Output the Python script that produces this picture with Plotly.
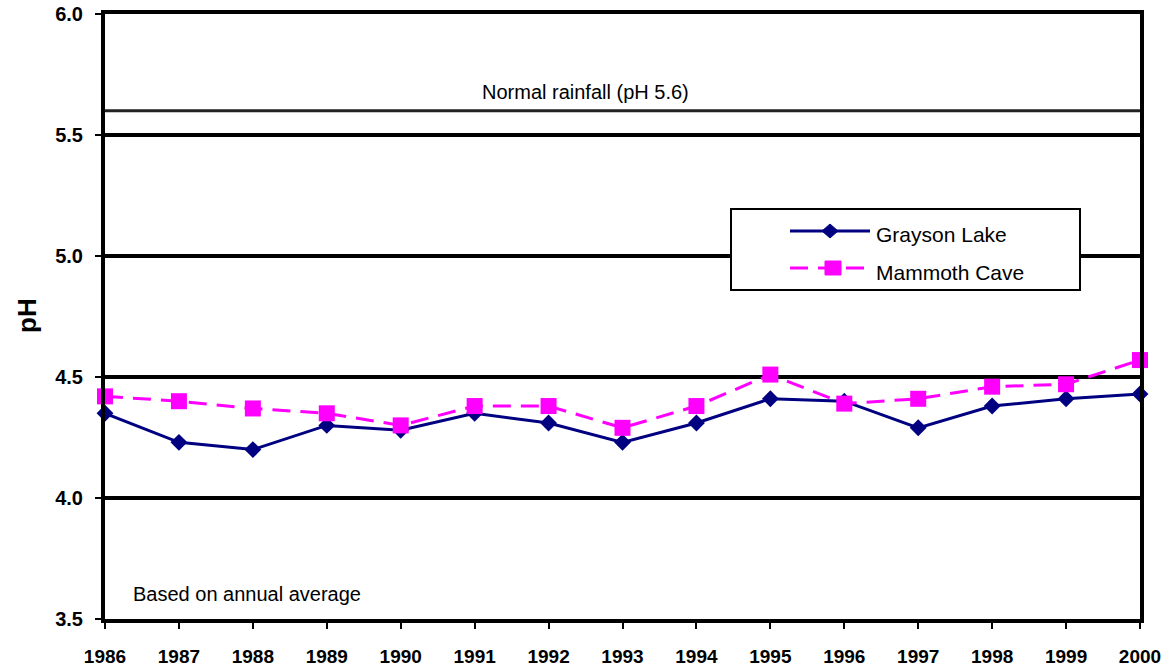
import plotly.graph_objects as go

# Annual average precipitation pH
years = [1986, 1987, 1988, 1989, 1990, 1991, 1992, 1993, 1994, 1995, 1996, 1997, 1998, 1999, 2000]
grayson_lake = [4.35, 4.23, 4.20, 4.30, 4.28, 4.35, 4.31, 4.23, 4.31, 4.41, 4.40, 4.29, 4.38, 4.41, 4.43]
mammoth_cave = [4.42, 4.40, 4.37, 4.35, 4.30, 4.38, 4.38, 4.29, 4.38, 4.51, 4.39, 4.41, 4.46, 4.47, 4.57]
series_names = ["Grayson Lake", "Mammoth Cave"]
normal_rainfall_ph = 5.6
y_ticks = [3.5, 4.0, 4.5, 5.0, 5.5, 6.0]

NAVY = "#000080"
MAGENTA = "#FF00FF"
FONT = "Liberation Sans, Arial, sans-serif"

fig = go.Figure()

fig.add_trace(go.Scatter(
    x=years, y=grayson_lake, name=series_names[0], mode="lines+markers",
    line=dict(color=NAVY, width=3),
    marker=dict(symbol="diamond", size=13, color=NAVY),
    cliponaxis=False, showlegend=False,
))
fig.add_trace(go.Scatter(
    x=years, y=mammoth_cave, name=series_names[1], mode="lines+markers",
    line=dict(color=MAGENTA, width=3, dash="18px,10px"),
    marker=dict(symbol="square", size=16, color=MAGENTA),
    cliponaxis=False, showlegend=False,
))

# Reference line for unpolluted rain
fig.add_shape(type="line", xref="paper", x0=0, x1=1, yref="y",
              y0=normal_rainfall_ph, y1=normal_rainfall_ph,
              line=dict(color="#222222", width=3), layer="above")

# Legend box drawn as shapes so the sample lines can be long
def px_x(p):
    return (p - 105) / 1035.0

def px_y(p):
    return (619 - p) / 605.0

fig.add_shape(type="rect", xref="paper", yref="paper",
              x0=px_x(731), x1=px_x(1080), y0=px_y(290), y1=px_y(209),
              line=dict(color="black", width=2), fillcolor="white", layer="above")
fig.add_shape(type="line", xref="paper", yref="paper",
              x0=px_x(790), x1=px_x(870), y0=px_y(231), y1=px_y(231),
              line=dict(color=NAVY, width=3), layer="above")
fig.add_shape(type="path", xref="paper", yref="paper",
              xsizemode="pixel", ysizemode="pixel",
              xanchor=px_x(830), yanchor=px_y(231),
              path="M -8 0 L 0 7 L 8 0 L 0 -7 Z",
              fillcolor=NAVY, line=dict(color=NAVY, width=1), layer="above")
fig.add_shape(type="line", xref="paper", yref="paper",
              x0=px_x(790), x1=px_x(866), y0=px_y(268), y1=px_y(268),
              line=dict(color=MAGENTA, width=3, dash="18px,10px"), layer="above")
fig.add_shape(type="path", xref="paper", yref="paper",
              xsizemode="pixel", ysizemode="pixel",
              xanchor=px_x(833), yanchor=px_y(268),
              path="M -8 -7 L 8 -7 L 8 7 L -8 7 Z",
              fillcolor=MAGENTA, line=dict(color=MAGENTA, width=1), layer="above")

fig.add_annotation(text=series_names[0], xref="paper", yref="paper",
                   x=px_x(874), y=px_y(235), xanchor="left", yanchor="middle",
                   showarrow=False, font=dict(family=FONT, size=21, color="black"))
fig.add_annotation(text=series_names[1], xref="paper", yref="paper",
                   x=px_x(874), y=px_y(273), xanchor="left", yanchor="middle",
                   showarrow=False, font=dict(family=FONT, size=21, color="black"))

fig.add_annotation(text=f"Normal rainfall (pH {normal_rainfall_ph})", xref="paper", yref="paper",
                   x=px_x(585), y=px_y(92), xanchor="center", yanchor="middle",
                   showarrow=False, font=dict(family=FONT, size=20, color="black"))
fig.add_annotation(text="Based on annual average", xref="paper", yref="paper",
                   x=px_x(131), y=px_y(594), xanchor="left", yanchor="middle",
                   showarrow=False, font=dict(family=FONT, size=20, color="black"))
fig.add_annotation(text="<b>pH</b>", xref="paper", yref="paper",
                   x=px_x(27), y=px_y(316), xanchor="center", yanchor="middle",
                   textangle=-90, showarrow=False,
                   font=dict(family=FONT, size=26, color="black"))

fig.update_xaxes(
    range=[years[0], years[-1]], tickmode="array", tickvals=years,
    ticktext=[str(y) for y in years],
    showgrid=False, zeroline=False, automargin=False,
    showline=True, linecolor="black", linewidth=4, mirror=True,
    ticks="outside", ticklen=6, tickwidth=2, tickcolor="black",
    ticklabelstandoff=11,
    tickfont=dict(family=FONT, size=19, color="black", weight="bold"),
)
fig.update_yaxes(
    range=[y_ticks[0], y_ticks[-1]], tickmode="array", tickvals=y_ticks,
    tickformat=".1f",
    showgrid=True, gridcolor="black", gridwidth=4, zeroline=False, automargin=False,
    showline=True, linecolor="black", linewidth=4, mirror=True,
    ticks="outside", ticklen=6, tickwidth=2, tickcolor="black",
    ticklabelstandoff=8,
    tickfont=dict(family=FONT, size=20, color="black", weight="bold"),
)

fig.update_layout(
    width=1174, height=671,
    margin=dict(l=105, r=34, t=14, b=52),
    paper_bgcolor="white", plot_bgcolor="white",
    showlegend=False,
    font=dict(family=FONT, color="black"),
)

fig.write_html("out.html")
